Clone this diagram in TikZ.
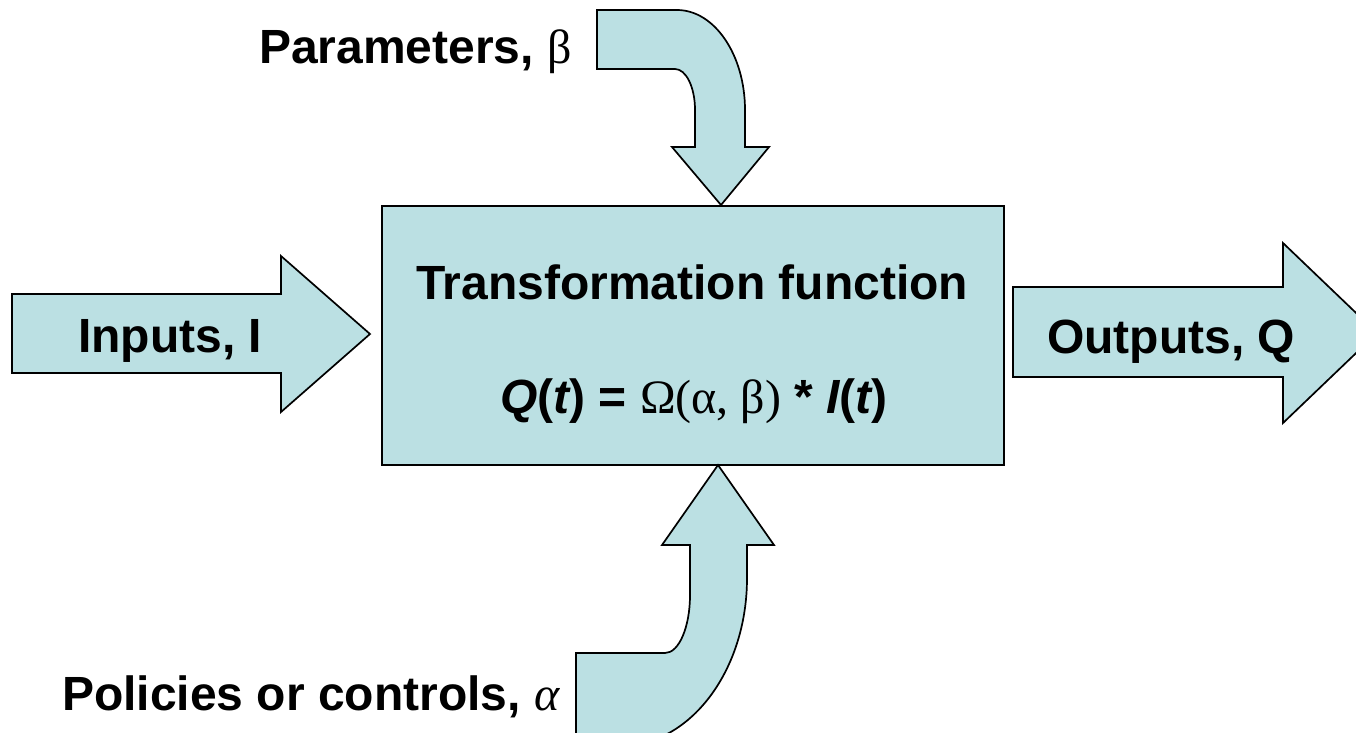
\documentclass[tikz,border=0pt]{standalone}
\usepackage{fontspec}
\setmainfont{Liberation Sans}
\newfontfamily\grk{Liberation Serif}
\definecolor{boxblue}{RGB}{187,224,227}
\begin{document}
\begin{tikzpicture}[x=1pt,y=-1pt,
  shapefill/.style={fill=boxblue,draw=black,line width=1.7pt,line join=miter},
  lbl/.style={inner sep=0pt,font=\fontsize{48}{58}\selectfont\bfseries}]
\useasboundingbox (0,0) rectangle (1356,732);
\fill[white] (0,0) rectangle (1356,732);
\begin{scope}
\clip (0,0) rectangle (1356,732);
% main box
\node[shapefill, minimum width=622pt, minimum height=259pt, inner sep=0pt, anchor=north west] (tf) at (381,205) {};
% inputs arrow
\path[shapefill] (12,294) -- (281,294) -- (281,256) -- (370,334) -- (281,412) -- (281,373) -- (12,373) -- cycle;
% outputs arrow
\path[shapefill] (1013,287) -- (1283,287) -- (1283,243) -- (1377,333) -- (1283,423) -- (1283,377) -- (1013,377) -- cycle;
% parameters bent arrow
\path[shapefill] (597,10) -- (677,10) .. controls (714.5,10) and (745,55) .. (745,110) -- (745,147) -- (769,147) -- (721,205) -- (672,147) -- (695,147) -- (695,110) .. controls (695,87) and (686,69) .. (675,69) -- (597,69) -- cycle;
% policies bent arrow
\path[shapefill] (718,465) -- (774,545) -- (747,545) -- (747,578) .. controls (747,670.7) and (690,746) .. (620,746) -- (576,746) -- (576,653) -- (665,653) .. controls (679,653) and (690,627) .. (690,595) -- (690,545) -- (662,545) -- cycle;
\end{scope}
% texts
\node[lbl, anchor=base west] (params) at (259,63) {Parameters, {\grk\mdseries β}};
\node[lbl, anchor=base west] (inputs) at (78,352) {Inputs, I};
\node[lbl, anchor=base west] (outputs) at (1047,353) {Outputs, Q};
\node[lbl, anchor=base] (tftitle) at (692,299) {Transformation function};
\node[lbl, anchor=base] (formula) at (694,413) {{\itshape Q}({\itshape t}) = {\grk\mdseries Ω(α, β)} * {\itshape I}({\itshape t})};
\node[lbl, anchor=base west] (policies) at (62,710) {Policies or controls, {\grk\mdseries\itshape α}};
\end{tikzpicture}
\end{document}
